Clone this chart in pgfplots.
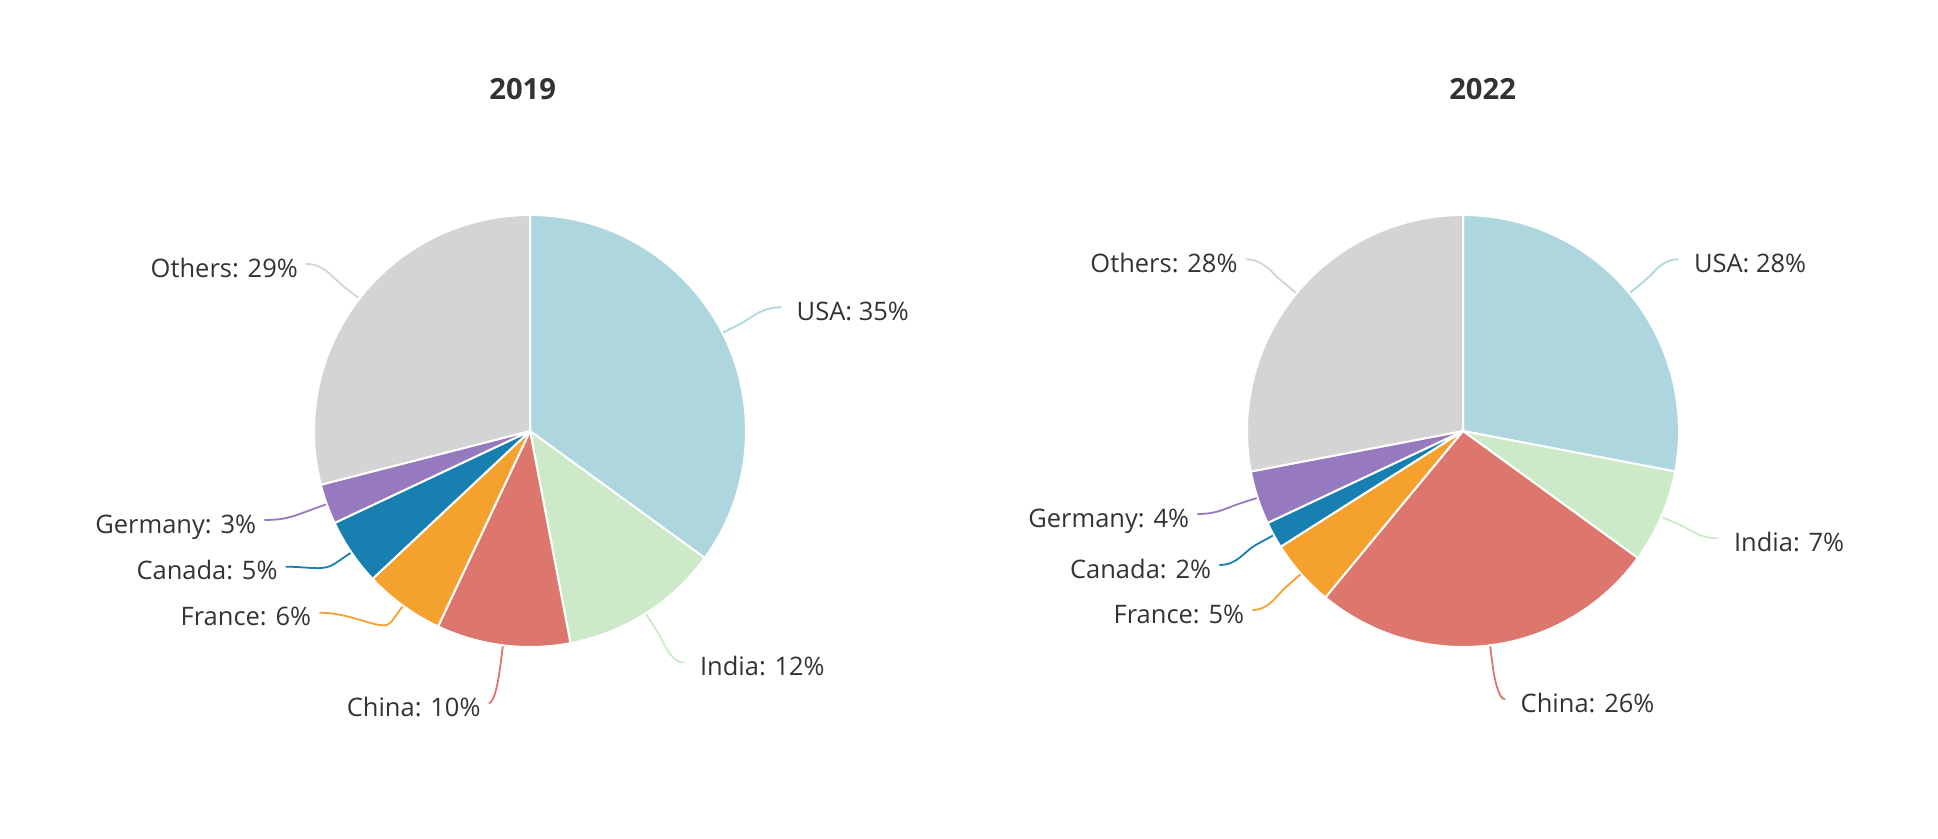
\documentclass[border=0pt]{standalone}
\usepackage{pgfplots}
\pgfplotsset{compat=1.18}
\usepackage{pgfplotstable}
\usepackage{fontspec}
\setmainfont{Open Sans}
\definecolor{cUSA}{HTML}{AED6DF}
\definecolor{cIndia}{HTML}{CCE9C8}
\definecolor{cChina}{HTML}{DD766C}
\definecolor{cFrance}{HTML}{F5A12E}
\definecolor{cCanada}{HTML}{1780B0}
\definecolor{cGermany}{HTML}{9779C0}
\definecolor{cOthers}{HTML}{D4D4D4}
\definecolor{txt}{HTML}{333333}
\newcommand\labelfont{\fontsize{7.25}{8}\selectfont}
\newcommand\titlefont{\fontsize{8.3}{10}\selectfont\bfseries}

% value = share in %, (lx,ly) = end of the leader line (px from pie centre)
\pgfplotstableread{
name value lx ly
USA 35 251 123.7
India 12 154.3 -231.7
China 10 -41.3 -272.3
France 6 -210.7 -181.7
Canada 5 -244.3 -135.7
Germany 3 -265.7 -89
Others 29 -224 167
}\dataA
\pgfplotstableread{
name value lx ly
USA 28 215.3 171.7
India 7 255.3 -107.3
China 26 42 -268.3
France 5 -210.7 -179
Canada 2 -243.7 -134
Germany 4 -265.7 -83
Others 28 -217.3 171.7
}\dataB

\def\pieR{216}
\newcommand\drawpie[1]{%
  \def\cum{0}%
  \pgfplotsforeachungrouped \i in {0,...,6}{%
    \pgfplotstablegetelem{\i}{name}\of#1\let\nm\pgfplotsretval
    \pgfplotstablegetelem{\i}{value}\of#1\let\v\pgfplotsretval
    \pgfmathsetmacro\s{90-3.6*\cum}%
    \pgfmathsetmacro\e{90-3.6*(\cum+\v)}%
    \pgfmathsetmacro\sx{\pieR*cos(\s)}%
    \pgfmathsetmacro\sy{\pieR*sin(\s)}%
    \pgfmathsetmacro\Rmm{\pieR*0.1}%
    \edef\temp{\noexpand\fill[c\nm, draw=white, line width=0.2mm, line join=round] (axis cs:0,0) -- (axis cs:\sx,\sy) arc[start angle=\s, end angle=\e, radius=\Rmm mm] -- cycle;}%
    \temp
    \pgfmathsetmacro\cum{\cum+\v}%
  }%
  \def\cum{0}%
  \pgfplotsforeachungrouped \i in {0,...,6}{%
    \pgfplotstablegetelem{\i}{name}\of#1\let\nm\pgfplotsretval
    \pgfplotstablegetelem{\i}{value}\of#1\let\v\pgfplotsretval
    \pgfplotstablegetelem{\i}{lx}\of#1\let\lx\pgfplotsretval
    \pgfplotstablegetelem{\i}{ly}\of#1\let\ly\pgfplotsretval
    \pgfmathsetmacro\m{90-3.6*(\cum+\v/2)}%
    \pgfmathsetmacro\px{(\pieR+1)*cos(\m)}%
    \pgfmathsetmacro\py{(\pieR+1)*sin(\m)}%
    \pgfmathsetmacro\bx{(\pieR+20)*cos(\m)}%
    \pgfmathsetmacro\by{(\pieR+20)*sin(\m)}%
    \pgfmathsetmacro\dx{(\pieR+34)*cos(\m)}%
    \pgfmathsetmacro\dy{(\pieR+34)*sin(\m)}%
    \pgfmathsetmacro\cx{(\lx+\bx)/2}%
    \pgfmathsetmacro\ty{\ly-13}%
    \ifdim\lx pt<0pt
      \pgfmathsetmacro\tx{\lx-7.5}\def\anc{base east}%
    \else
      \pgfmathsetmacro\tx{\lx+15}\def\anc{base west}%
    \fi
    \edef\temp{\noexpand\draw[c\nm, line width=0.18mm] (axis cs:\lx,\ly) .. controls (axis cs:\cx,\ly) and (axis cs:\dx,\dy) .. (axis cs:\bx,\by) -- (axis cs:\px,\py);
      \noexpand\node[anchor=\anc, inner sep=0pt, text=txt, font=\noexpand\labelfont] at (axis cs:\tx,\ty) {\nm: \v\noexpand\%};}%
    \temp
    \pgfmathsetmacro\cum{\cum+\v}%
  }%
}

\begin{document}
\begin{tikzpicture}
\begin{axis}[at={(0,0)}, anchor=south west, x=0.1mm, y=0.1mm,
  xmin=-530, xmax=439, ymin=-407, ymax=431, hide axis, clip=false]
  \path (rel axis cs:0,0) rectangle (rel axis cs:1,1);
  \drawpie{\dataA}
  \node[anchor=base, inner sep=0pt, text=txt, font=\titlefont] at (axis cs:-7.3,331.7) {2019};
\end{axis}
\begin{axis}[at={(96.9mm,0)}, anchor=south west, x=0.1mm, y=0.1mm,
  xmin=-494, xmax=475, ymin=-407, ymax=431, hide axis, clip=false]
  \path (rel axis cs:0,0) rectangle (rel axis cs:1,1);
  \drawpie{\dataB}
  \node[anchor=base, inner sep=0pt, text=txt, font=\titlefont] at (axis cs:19.6,331.7) {2022};
\end{axis}
\end{tikzpicture}
\end{document}
